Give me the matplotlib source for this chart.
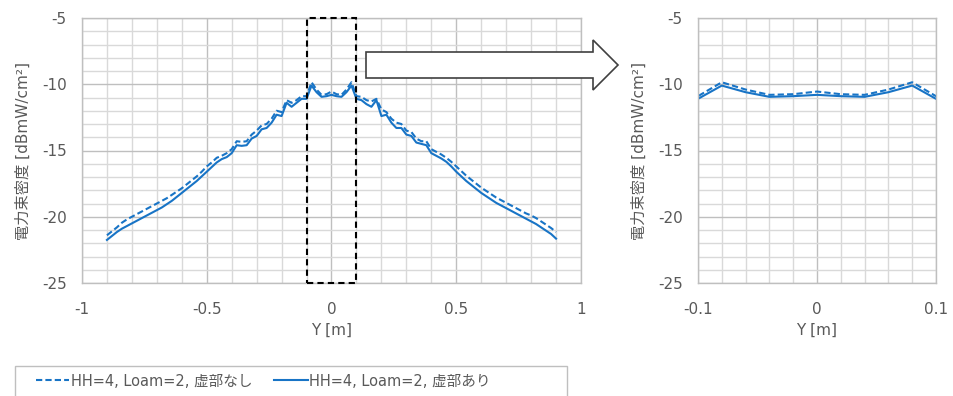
import matplotlib
matplotlib.use("Agg")
import matplotlib.pyplot as plt
from matplotlib.patches import Rectangle, Polygon
from matplotlib.ticker import MultipleLocator
import numpy as np

plt.rcParams['font.family'] = ['DejaVu Sans', 'Noto Sans CJK JP']

# ---- data ----
y_pos = [round(-0.9 + 0.02 * i, 2) for i in range(91)]

solid_vals = [
    -21.75, -21.45, -21.15, -20.9, -20.7, -20.5, -20.3, -20.1, -19.9, -19.7,
    -19.5, -19.3, -19.05, -18.8, -18.5, -18.2, -17.9, -17.6, -17.3, -16.95,
    -16.6, -16.25, -15.9, -15.65, -15.5, -15.2, -14.6, -14.65, -14.6, -14.1,
    -13.9, -13.4, -13.3, -12.9, -12.3, -12.4, -11.4, -11.7, -11.4, -11.1,
    -11.1, -10.1, -10.6, -10.95, -10.9, -10.8,
    -10.9, -10.95, -10.6, -10.1, -11.1, -11.2, -11.5, -11.7, -11.2, -12.4,
    -12.3, -12.9, -13.3, -13.3, -13.8, -13.9, -14.4, -14.5, -14.6, -15.2,
    -15.4, -15.6, -15.85, -16.2, -16.6, -16.95, -17.3, -17.6, -17.9, -18.2,
    -18.45, -18.7, -18.95, -19.15, -19.35, -19.55, -19.75, -19.95, -20.15, -20.35,
    -20.55, -20.8, -21.05, -21.3, -21.65,
]

dashed_vals = [
    -21.4, -21.1, -20.8, -20.45, -20.2, -20.0, -19.8, -19.6, -19.4, -19.2,
    -19.0, -18.8, -18.6, -18.35, -18.1, -17.85, -17.55, -17.25, -16.95, -16.6,
    -16.2, -15.9, -15.55, -15.4, -15.2, -14.9, -14.3, -14.35, -14.3, -13.8,
    -13.5, -13.1, -13.0, -12.6, -12.0, -12.1, -11.2, -11.4, -11.2, -10.9,
    -10.9, -9.85, -10.4, -10.8, -10.75, -10.55,
    -10.75, -10.8, -10.4, -9.85, -10.9, -10.95, -11.2, -11.3, -11.1, -11.9,
    -12.1, -12.6, -12.9, -13.0, -13.5, -13.6, -14.1, -14.3, -14.3, -14.9,
    -15.1, -15.3, -15.55, -15.85, -16.2, -16.55, -16.9, -17.2, -17.5, -17.8,
    -18.05, -18.3, -18.55, -18.75, -18.95, -19.15, -19.35, -19.55, -19.75, -19.9,
    -20.1, -20.35, -20.6, -20.85, -21.15,
]

series_labels = ["HH=4, Loam=2, 虚部なし", "HH=4, Loam=2, 虚部あり"]
x_label = "Y [m]"
y_label = "電力束密度 [dBmW/cm²]"
zoom_range = [-0.1, 0.1]
y_range = [-25, -5]

# ---- style ----
blue = '#1874C6'
text_col = '#595959'
major_col = '#bfbfbf'
minor_col = '#d9d9d9'
fs = 11

W, H = 954, 396
fig = plt.figure(figsize=(W / 100, H / 100), dpi=100)

def px_box(l, r, t, b):
    return [l / W, 1 - b / H, (r - l) / W, (b - t) / H]

ax1 = fig.add_axes(px_box(82, 581, 18, 283))
ax2 = fig.add_axes(px_box(698, 936, 18, 283))

def style(ax, xlim, xmaj, xmin):
    ax.set_xlim(*xlim)
    ax.set_ylim(*y_range)
    ax.xaxis.set_major_locator(MultipleLocator(xmaj))
    ax.xaxis.set_minor_locator(MultipleLocator(xmin))
    ax.yaxis.set_major_locator(MultipleLocator(5))
    ax.yaxis.set_minor_locator(MultipleLocator(1))
    ax.grid(which='major', color=major_col, lw=1.0)
    ax.grid(which='minor', color=minor_col, lw=1.0)
    ax.set_axisbelow(True)
    for s in ax.spines.values():
        s.set_color(major_col)
        s.set_linewidth(1.0)
    ax.tick_params(which='both', length=0, colors=text_col, labelsize=fs)
    ax.tick_params(axis='y', pad=11)
    ax.tick_params(axis='x', pad=14)
    ax.xaxis.set_major_formatter(plt.FuncFormatter(lambda v, p: f"{v:g}"))
    ax.yaxis.set_major_formatter(plt.FuncFormatter(lambda v, p: f"{v:g}"))
    ax.set_xlabel(x_label, color=text_col, fontsize=fs, labelpad=4)
    ax.set_ylabel(y_label, color=text_col, fontsize=fs, labelpad=8)

style(ax1, (-1, 1), 0.5, 0.1)
style(ax2, tuple(zoom_range), 0.1, 0.02)

for ax in (ax1, ax2):
    l1, = ax.plot(y_pos, dashed_vals, color=blue, lw=1.5, ls=(0, (3, 1.5)),
                  label=series_labels[0])
    l2, = ax.plot(y_pos, solid_vals, color=blue, lw=1.5, ls='-',
                  label=series_labels[1])

# dashed zoom box on left chart
ax1.add_patch(Rectangle((zoom_range[0], y_range[0]), zoom_range[1] - zoom_range[0],
                        y_range[1] - y_range[0], fill=False, ec='black', lw=1.5,
                        ls=(0, (3, 2)), zorder=5, clip_on=False))

# block arrow (figure pixel coords)
def fp(x, y):
    return (x / W, 1 - y / H)
arrow_pts = [fp(366, 52), fp(593, 52), fp(593, 40), fp(618, 65),
             fp(593, 90), fp(593, 78), fp(366, 78)]
fig.patches.append(Polygon(arrow_pts, closed=True, transform=fig.transFigure,
                           fc='white', ec='#404040', lw=1.2))

# legend frame
fig.patches.append(Rectangle(fp(15, 400), 552 / W, 34 / H, transform=fig.transFigure,
                             fill=False, ec='#bfbfbf', lw=1.0))
leg = fig.legend(handles=[l1, l2], labels=series_labels, ncol=2,
                 loc='center left', bbox_to_anchor=fp(30, 381),
                 frameon=False, fontsize=10.5, handlelength=2.3,
                 handletextpad=0.1, columnspacing=1.5, borderaxespad=0,
                 labelcolor=text_col)

fig.savefig('out.png', dpi=100)
